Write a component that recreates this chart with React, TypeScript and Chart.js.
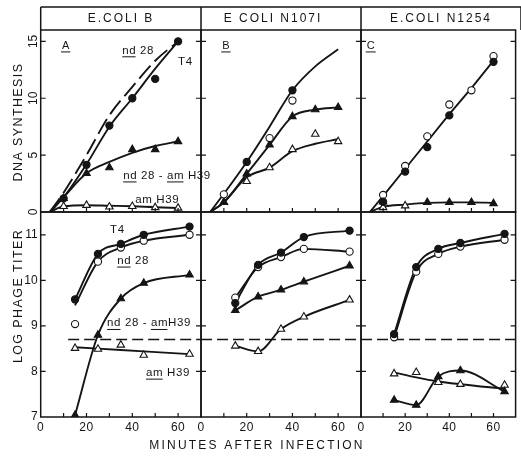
import React, { useEffect, useRef } from "react";
import { Chart, registerables } from "chart.js";

Chart.register(...registerables);

const W = 521;
const H = 458;
const INK = "#151515";
const FONT = '"Liberation Sans", "DejaVu Sans", Arial, sans-serif';

// ---------- axes ----------
const X_MIN = 0;
const X_MAX = 70;
const DNA_MIN = 0;
const DNA_MAX = 16;
const TITER_MIN = 7;
const TITER_MAX = 11.5;
const X_TICKS = [10, 20, 30, 40, 50, 60];
const X_TICK_LABELS = [0, 20, 40, 60];
const DNA_TICKS = [5, 10, 15];
const DNA_TICK_LABELS = [0, 5, 10, 15];
const TITER_TICKS = [8, 9, 10, 11];
const TITER_TICK_LABELS = [7, 8, 9, 10, 11];

const STRAINS = ["E.COLI B", "E COLI N107I", "E.COLI N1254"];
const PANEL_LETTERS = ["A", "B", "C"];
const Y_TITLES = ["DNA SYNTHESIS", "LOG PHAGE TITER"];
const X_TITLE = "MINUTES AFTER INFECTION";

// ---------- sample times ----------
const DNA_TIMES = [10, 20, 30, 40, 50, 60];
const TITER_TIMES = [15, 25, 35, 45, 65];
const DNA_ONSET = 4; // curves leave the zero line here
const THRESHOLD = 8.7; // dashed input level
const THRESHOLD_FROM = [12, 0, 0];

// ---------- Panel A : E. coli B, DNA synthesis ----------
const A_T4 = [1.2, 4.15, 7.6, 10.0, 11.7, 15.0];
const A_T4_FIT = [1.3, 4.2, 7.5, 10.0, 12.6, 15.0];
const A_ND28_FIT = [1.7, 5.0, 8.5, 11.0, 13.3, 15.0];
const A_NDAM = [1.2, 3.4, 3.9, 5.5, 5.5, 6.2];
const A_NDAM_FIT = [1.3, 3.4, 4.4, 5.2, 5.8, 6.2];
const A_AM = [0.5, 0.6, 0.45, 0.5, 0.4, 0.35];
const A_AM_FIT = [0.5, 0.6, 0.55, 0.5, 0.42, 0.35];

// ---------- Panel B : E. coli N107I, DNA synthesis ----------
const B_T4 = [null, 4.4, null, 10.7, null, null];
const B_T4_FIT = [1.6, 4.4, 7.5, 10.7, 12.8, 14.3];
const B_ND28 = [1.55, null, 6.5, 9.8, null, null];
const B_NDAM = [0.85, 3.35, 5.9, 8.4, 9.0, 9.2];
const B_AM = [0.85, 2.7, 3.9, 5.5, 6.85, 6.2];
const B_AM_FIT = [0.85, 3.05, 3.9, 5.35, 6.0, 6.4];

// ---------- Panel C : E. coli N1254, DNA synthesis ----------
const C_T4 = [0.9, 3.55, 5.7, 8.5, null, 13.2];
const C_ND28 = [1.5, 4.05, 6.65, 9.45, 10.7, 13.7];
const C_T4_FIT = [1.4, 3.8, 6.2, 8.6, 10.9, 13.3];
const C_NDAM = [0.9, null, 0.85, 0.85, 0.85, 0.75];
const C_AM = [0.4, 0.55, null, null, null, null];
const C_LOW_FIT = [0.45, 0.65, 0.8, 0.85, 0.85, 0.8];

// ---------- Panel D : E. coli B, log phage titer ----------
const D_T4 = [9.58, 10.58, 10.8, 11.0, 11.18];
const D_ND28 = [9.04, 10.41, 10.72, 10.87, 11.0];
const D_ND28_FIT = [9.45, 10.41, 10.72, 10.87, 11.0];
const D_NDAM = [7.04, 8.8, 9.6, 9.94, 10.12];
const D_AM = [8.51, 8.49, 8.58, 8.36, 8.38];
const D_AM_FIT = [8.53, 8.5, 8.47, 8.44, 8.38];

// ---------- Panel E : E. coli N107I, log phage titer ----------
const E_T4 = [9.5, 10.34, 10.61, 10.95, 11.09];
const E_ND28 = [9.62, 10.29, 10.51, 10.69, 10.63];
const E_NDAM = [9.34, 9.64, 9.79, 9.97, 10.32];
const E_AM = [8.56, 8.44, 8.93, 9.2, 9.57];

// ---------- Panel F : E. coli N1254, log phage titer ----------
const F_T4 = [8.82, 10.29, 10.69, 10.82, 11.02];
const F_ND28 = [8.75, 10.19, 10.58, 10.74, 10.89];
const F_AM = [7.95, 7.98, 7.76, 7.72, 7.7];
const F_AM_FIT = [7.98, 7.87, 7.78, 7.72, 7.62];
const F_NDAM = [7.37, 7.26, 7.89, 8.02, 7.56];

// ---------- annotations (text parts: [text, underlined]) ----------
const A_NOTES = [
  { parts: [["nd", true], [" 28", false]], t: 35.6, v: 14.2 },
  { parts: [["T4", false]], t: 60, v: 13.2 },
  { parts: [["nd", true], [" 28 - ", false], ["am", true], [" H39", false]], t: 36, v: 3.2 },
  { parts: [["am", true], [" H39", false]], t: 41.3, v: 1.05 },
];
const D_NOTES = [
  { parts: [["T4", false]], t: 30.3, v: 11.1 },
  { parts: [["nd", true], [" 28", false]], t: 33.4, v: 10.43 },
  { parts: [["nd", true], [" 28 - ", false], ["am", true], ["H39", false]], t: 29, v: 9.06 },
  { parts: [["am", true], [" H39", false]], t: 46, v: 7.97 },
];

// ---------- layout ----------
const COL_EDGES = [40.7, 201, 361, 521];
const ROW_EDGES = [30, 212, 417];
const HEADER_TOP = 7;
const HEADER_X = [121, 273, 441];
const Y_TITLE_CENTER = [122, 296];

type Kind = "fc" | "oc" | "ft" | "ot";
const MARK: Record<Kind, { style: string; fill: string; r: number }> = {
  fc: { style: "circle", fill: INK, r: 3.6 },
  oc: { style: "circle", fill: "#ffffff", r: 3.6 },
  ft: { style: "triangle", fill: INK, r: 4.3 },
  ot: { style: "triangle", fill: "#ffffff", r: 4.3 },
};

function pts(times: number[], vals: (number | null)[]) {
  const out: { x: number; y: number }[] = [];
  times.forEach((t, i) => {
    const v = vals[i];
    if (v !== null && v !== undefined) out.push({ x: t, y: v });
  });
  return out;
}
function fit(times: number[], vals: number[], onset?: number) {
  const d = times.map((t, i) => ({ x: t, y: vals[i] }));
  if (onset !== undefined) d.unshift({ x: onset, y: 0 });
  return d;
}

function markerSet(kind: Kind, data: { x: number; y: number }[]) {
  const m = MARK[kind];
  return {
    data,
    showLine: false,
    pointStyle: m.style,
    pointRadius: m.r,
    pointBackgroundColor: m.fill,
    pointBorderColor: INK,
    pointBorderWidth: 1.1,
    order: 0,
  };
}
function curveSet(data: { x: number; y: number }[], opts: { dash?: number[]; straight?: boolean; width?: number } = {}) {
  return {
    data,
    borderColor: INK,
    borderWidth: opts.width ?? 1.9,
    borderDash: opts.dash ?? [],
    pointRadius: 0,
    tension: 0,
    cubicInterpolationMode: opts.straight ? "default" : "monotone",
    fill: false,
    order: 1,
  };
}

const PANELS = [
  {
    col: 0, row: 0,
    datasets: [
      markerSet("fc", pts(DNA_TIMES, A_T4)),
      markerSet("ft", pts(DNA_TIMES, A_NDAM)),
      markerSet("ot", pts(DNA_TIMES, A_AM)),
      curveSet(fit(DNA_TIMES, A_T4_FIT, DNA_ONSET)),
      curveSet(fit(DNA_TIMES, A_ND28_FIT, DNA_ONSET), { dash: [17, 6] }),
      curveSet(fit(DNA_TIMES, A_NDAM_FIT, DNA_ONSET)),
      curveSet(fit(DNA_TIMES, A_AM_FIT, DNA_ONSET)),
    ],
    notes: A_NOTES,
  },
  {
    col: 1, row: 0,
    datasets: [
      markerSet("fc", pts(DNA_TIMES, B_T4)),
      markerSet("oc", pts(DNA_TIMES, B_ND28)),
      markerSet("ft", pts(DNA_TIMES, B_NDAM)),
      markerSet("ot", pts(DNA_TIMES, B_AM)),
      curveSet(fit(DNA_TIMES, B_T4_FIT, DNA_ONSET)),
      curveSet(fit(DNA_TIMES, B_NDAM as number[], DNA_ONSET)),
      curveSet(fit(DNA_TIMES, B_AM_FIT, DNA_ONSET)),
    ],
    notes: [],
  },
  {
    col: 2, row: 0,
    datasets: [
      markerSet("fc", pts(DNA_TIMES, C_T4)),
      markerSet("oc", pts(DNA_TIMES, C_ND28)),
      markerSet("ft", pts(DNA_TIMES, C_NDAM)),
      markerSet("ot", pts(DNA_TIMES, C_AM)),
      curveSet(fit(DNA_TIMES, C_T4_FIT, DNA_ONSET), { straight: true }),
      curveSet(fit(DNA_TIMES, C_LOW_FIT, DNA_ONSET)),
    ],
    notes: [],
  },
  {
    col: 0, row: 1,
    datasets: [
      markerSet("fc", pts(TITER_TIMES, D_T4)),
      markerSet("oc", pts(TITER_TIMES, D_ND28)),
      markerSet("ft", pts(TITER_TIMES, D_NDAM)),
      markerSet("ot", pts(TITER_TIMES, D_AM)),
      curveSet(fit(TITER_TIMES, D_T4)),
      curveSet(fit(TITER_TIMES, D_ND28_FIT)),
      curveSet(fit(TITER_TIMES, D_NDAM)),
      curveSet(fit(TITER_TIMES, D_AM_FIT), { straight: true }),
      curveSet([{ x: THRESHOLD_FROM[0], y: THRESHOLD }, { x: X_MAX, y: THRESHOLD }], { dash: [11, 5], straight: true, width: 1.5 }),
    ],
    notes: D_NOTES,
  },
  {
    col: 1, row: 1,
    datasets: [
      markerSet("fc", pts(TITER_TIMES, E_T4)),
      markerSet("oc", pts(TITER_TIMES, E_ND28)),
      markerSet("ft", pts(TITER_TIMES, E_NDAM)),
      markerSet("ot", pts(TITER_TIMES, E_AM)),
      curveSet(fit(TITER_TIMES, E_T4)),
      curveSet(fit(TITER_TIMES, E_ND28)),
      curveSet(fit(TITER_TIMES, E_NDAM)),
      curveSet(fit(TITER_TIMES, E_AM)),
      curveSet([{ x: THRESHOLD_FROM[1], y: THRESHOLD }, { x: X_MAX, y: THRESHOLD }], { dash: [11, 5], straight: true, width: 1.5 }),
    ],
    notes: [],
  },
  {
    col: 2, row: 1,
    datasets: [
      markerSet("fc", pts(TITER_TIMES, F_T4)),
      markerSet("oc", pts(TITER_TIMES, F_ND28)),
      markerSet("ft", pts(TITER_TIMES, F_NDAM)),
      markerSet("ot", pts(TITER_TIMES, F_AM)),
      curveSet(fit(TITER_TIMES, F_T4)),
      curveSet(fit(TITER_TIMES, F_ND28)),
      curveSet(fit(TITER_TIMES, F_NDAM)),
      curveSet(fit(TITER_TIMES, F_AM_FIT)),
      curveSet([{ x: THRESHOLD_FROM[2], y: THRESHOLD }, { x: X_MAX, y: THRESHOLD }], { dash: [11, 5], straight: true, width: 1.5 }),
    ],
    notes: [],
  },
];

function drawRich(ctx: CanvasRenderingContext2D, parts: any[], x: number, y: number, size: number) {
  ctx.font = `${size}px ${FONT}`;
  (ctx as any).letterSpacing = "0.6px";
  ctx.textAlign = "left";
  ctx.textBaseline = "middle";
  let cx = x;
  for (const [text, ul] of parts) {
    const w = ctx.measureText(text).width;
    ctx.fillText(text, cx, y);
    if (ul) {
      ctx.beginPath();
      ctx.lineWidth = 1;
      ctx.moveTo(cx, y + size * 0.55);
      ctx.lineTo(cx + w - 0.6, y + size * 0.55);
      ctx.stroke();
    }
    cx += w;
  }
}

function decorPlugin(p: any, drawGlobal: boolean) {
  return {
    id: "panelDecor",
    afterDraw(chart: any) {
      const { ctx, chartArea: a, scales } = chart;
      const xs = scales.x;
      const ys = scales.y;
      const yTicks = p.row === 0 ? DNA_TICKS : TITER_TICKS;
      ctx.save();
      ctx.strokeStyle = INK;
      ctx.fillStyle = INK;
      ctx.setLineDash([]);
      ctx.lineWidth = 1.5;
      ctx.strokeRect(a.left, a.top, a.right - a.left, a.bottom - a.top);
      ctx.lineWidth = 1.2;
      ctx.beginPath();
      for (const v of yTicks) {
        const y = ys.getPixelForValue(v);
        ctx.moveTo(a.left, y);
        ctx.lineTo(a.left + 5, y);
        ctx.moveTo(a.right, y);
        ctx.lineTo(a.right - 5, y);
      }
      for (const t of X_TICKS) {
        const x = xs.getPixelForValue(t);
        ctx.moveTo(x, a.bottom);
        ctx.lineTo(x, a.bottom - 4);
      }
      ctx.stroke();

      ctx.font = `12px ${FONT}`;
      (ctx as any).letterSpacing = "0px";
      if (p.col === 0) {
        if (p.row === 0) {
          for (const v of DNA_TICK_LABELS) {
            const y = ys.getPixelForValue(v);
            ctx.save();
            ctx.translate(a.left - 7, y);
            ctx.rotate(-Math.PI / 2);
            ctx.textAlign = "center";
            ctx.textBaseline = "middle";
            ctx.fillText(String(v), 0, 0);
            ctx.restore();
          }
        } else {
          ctx.textAlign = "right";
          ctx.textBaseline = "middle";
          for (const v of TITER_TICK_LABELS) {
            ctx.fillText(String(v), a.left - 3, ys.getPixelForValue(v));
          }
        }
      }
      if (p.row === 1) {
        ctx.textAlign = "center";
        ctx.textBaseline = "middle";
        (ctx as any).letterSpacing = "0.5px";
        for (const t of X_TICK_LABELS) {
          ctx.fillText(String(t), xs.getPixelForValue(t), a.bottom + 11);
        }
      }
      if (p.row === 0) {
        const letter = PANEL_LETTERS[p.col];
        ctx.font = `11px ${FONT}`;
        (ctx as any).letterSpacing = "0px";
        ctx.textAlign = "left";
        ctx.textBaseline = "middle";
        const lx = xs.getPixelForValue(p.col === 2 ? 2.6 : 9.3);
        const ly = ys.getPixelForValue(14.6);
        ctx.fillText(letter, lx, ly);
        const w = ctx.measureText(letter).width;
        ctx.beginPath();
        ctx.lineWidth = 1;
        ctx.moveTo(lx - 1, ly + 6);
        ctx.lineTo(lx + w + 1, ly + 6);
        ctx.stroke();
      }
      for (const n of p.notes) {
        drawRich(ctx, n.parts, xs.getPixelForValue(n.t), ys.getPixelForValue(n.v), 11.5);
      }

      if (drawGlobal) {
        ctx.lineWidth = 1.5;
        ctx.beginPath();
        ctx.moveTo(COL_EDGES[0], HEADER_TOP);
        ctx.lineTo(W, HEADER_TOP);
        for (const x of COL_EDGES) {
          ctx.moveTo(x, HEADER_TOP);
          ctx.lineTo(x, ROW_EDGES[0]);
        }
        ctx.stroke();
        ctx.font = `12px ${FONT}`;
        (ctx as any).letterSpacing = "2px";
        ctx.textAlign = "center";
        ctx.textBaseline = "middle";
        STRAINS.forEach((s, i) => ctx.fillText(s, HEADER_X[i], 19));
        ctx.font = `12.5px ${FONT}`;
        (ctx as any).letterSpacing = "1.4px";
        Y_TITLES.forEach((s, i) => {
          ctx.save();
          ctx.translate(19, Y_TITLE_CENTER[i]);
          ctx.rotate(-Math.PI / 2);
          ctx.fillText(s, 0, 0);
          ctx.restore();
        });
        (ctx as any).letterSpacing = "2.2px";
        ctx.font = `12px ${FONT}`;
        ctx.fillText(X_TITLE, 257, 446);
      }
      ctx.restore();
    },
  };
}

function buildConfig(p: any, drawGlobal: boolean): any {
  return {
    type: "line",
    data: { datasets: p.datasets },
    options: {
      animation: false,
      responsive: false,
      devicePixelRatio: 1,
      events: [],
      layout: {
        padding: {
          left: COL_EDGES[p.col],
          right: W - COL_EDGES[p.col + 1],
          top: ROW_EDGES[p.row],
          bottom: H - ROW_EDGES[p.row + 1],
        },
      },
      plugins: { legend: { display: false }, tooltip: { enabled: false }, title: { display: false } },
      scales: {
        x: { type: "linear", min: X_MIN, max: X_MAX, display: false },
        y: {
          type: "linear",
          min: p.row === 0 ? DNA_MIN : TITER_MIN,
          max: p.row === 0 ? DNA_MAX : TITER_MAX,
          display: false,
        },
      },
    },
    plugins: [decorPlugin(p, drawGlobal)],
  };
}

export default function App() {
  const refs = useRef<(HTMLCanvasElement | null)[]>([]);
  useEffect(() => {
    const charts = PANELS.map((p, i) => new Chart(refs.current[i] as HTMLCanvasElement, buildConfig(p, i === 0)));
    return () => charts.forEach((c) => c.destroy());
  }, []);
  return (
    <div style={{ position: "fixed", left: 0, top: 0, width: W, height: H, background: "#ffffff", overflow: "hidden" }}>
      {PANELS.map((_, i) => (
        <canvas
          key={i}
          ref={(el) => {
            refs.current[i] = el;
          }}
          width={W}
          height={H}
          style={{ position: "absolute", left: 0, top: 0, width: W, height: H }}
        />
      ))}
    </div>
  );
}
